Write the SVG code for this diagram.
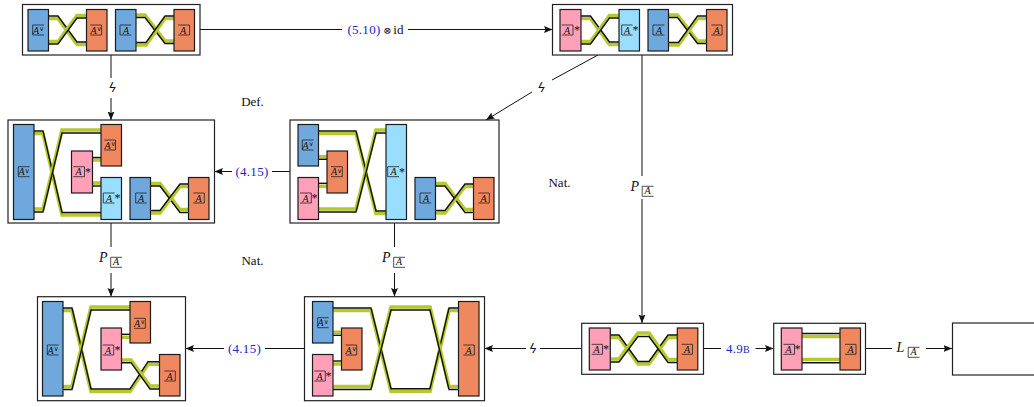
<svg xmlns="http://www.w3.org/2000/svg" width="1034" height="407" viewBox="0 0 1034 407">
<style>
text{font-family:"Liberation Serif","DejaVu Serif",serif;fill:#111}
.f{fill:#fff;stroke:#222;stroke-width:1.2}
.s{stroke:#1c1c1c;stroke-width:1.2}
.bl{fill:#6fa8dc}.or{fill:#f0885f}.pk{fill:#ff9fb8}.lb{fill:#99ddff}
.o{fill:none;stroke:#b7c72e;stroke-width:3.6}
.k{fill:none;stroke:#111;stroke-width:1.4}
.b{fill:none;stroke:#222;stroke-width:.8}
.a{font-size:10px;font-style:italic;text-anchor:middle}
.u{font-size:6.5px;font-style:normal}
.st{font-size:12px;transform:translate(-.5px,2.5px)}
.e{fill:none;stroke:#111;stroke-width:1}
.l{font-size:13px;text-anchor:middle;letter-spacing:.3px}
.z{font-family:"DejaVu Sans",sans-serif;font-size:13px;font-style:italic;text-anchor:middle}
.blue{fill:#2424c8}
.p{font-size:14px;font-style:italic}
.t{font-size:13px;text-anchor:middle}
</style>
<defs>
<marker id="ah" markerUnits="userSpaceOnUse" markerWidth="9" markerHeight="8" refX="8.500" refY="3.500" orient="auto"><path d="M0 0L8.500 3.500L0 7L1.500 3.500Z" fill="#111"/></marker>
</defs>

<g id="connectors">
<path class="e" d="M200 29.500H342"/><path class="e" d="M408 29.500H552.500" marker-end="url(#ah)"/>
<path class="e" d="M111 55V78"/><path class="e" d="M111 98V120" marker-end="url(#ah)"/>
<path class="e" d="M598 55L552 80"/><path class="e" d="M532 92L486 120" marker-end="url(#ah)"/>
<path class="e" d="M642 55V176"/><path class="e" d="M642 199V323" marker-end="url(#ah)"/>
<path class="e" d="M290 171.500H272"/><path class="e" d="M232 171.500H214.500" marker-end="url(#ah)"/>
<path class="e" d="M111 223V247"/><path class="e" d="M111 273V296.500" marker-end="url(#ah)"/>
<path class="e" d="M394.500 223V247"/><path class="e" d="M394.500 273V296.500" marker-end="url(#ah)"/>
<path class="e" d="M304 348.500H265"/><path class="e" d="M224 348.500H185.500" marker-end="url(#ah)"/>
<path class="e" d="M581.500 348.500H540"/><path class="e" d="M526 348.500H484.500" marker-end="url(#ah)"/>
<path class="e" d="M703.500 348.500H721"/><path class="e" d="M755.500 348.500H773.500" marker-end="url(#ah)"/>
<path class="e" d="M865.500 348.500H892"/><path class="e" d="M926 348.500H952" marker-end="url(#ah)"/>
</g>

<g id="edge-labels">
<text class="l blue" x="364" y="34">(5.10)</text><text class="l" x="387.500" y="34" style="font-size:10px">⊗</text><text class="l" x="398.500" y="34">id</text>
<text class="z" x="112.500" y="92">ϟ</text>
<text class="z" x="541.500" y="92">ϟ</text>
<text class="z" x="533" y="353">ϟ</text>
<text class="l blue" x="252" y="176">(4.15)</text>
<text class="l blue" x="244.500" y="353">(4.15)</text>
<text class="l blue" x="738" y="353">4.9<tspan style="font-size:10px">B</tspan></text>
<text class="t" x="252.500" y="106">Def.</text>
<text class="t" x="559.500" y="187">Nat.</text>
<text class="t" x="252.500" y="265">Nat.</text>
<text class="p" x="99" y="262">P</text><path class="b" d="M122 257.300H110.700V267.300H122"/><text class="a" x="116" y="265.300">A</text>
<text class="p" x="382" y="262">P</text><path class="b" d="M405 257.300H393.700V267.300H405"/><text class="a" x="399" y="265.300">A</text>
<text class="p" x="630.500" y="191">P</text><path class="b" d="M653.500 186.300H642.200V196.300H653.500"/><text class="a" x="647.500" y="194.300">A</text>
<text class="p" x="896.500" y="352">L</text><path class="b" d="M919.500 347.300H908.200V357.300H919.500"/><text class="a" x="913.500" y="355.300">A</text>
</g>

<g id="n1">
<rect class="f" x="22.500" y="4.500" width="177.500" height="50.500"/>
<path class="o" d="M48.500 18.500H58L77 44.500H86.500"/><path class="k" d="M48.500 16H58L77 42H86.500"/>
<path class="o" d="M48.500 41.500H58L77 15.500H86.500"/><path class="k" d="M48.500 44H58L77 18H86.500"/>
<path class="o" d="M136 15H145L165 41H174"/><path class="k" d="M136 17.500H145L165 43.500H174"/>
<path class="o" d="M136 45H146L165 18.500H174"/><path class="k" d="M136 42.500H146L165 16H174"/>
<rect class="s bl" x="28" y="9.500" width="20.500" height="41.500"/><rect class="s or" x="86.500" y="9.500" width="20.500" height="41.500"/>
<rect class="s bl" x="115.500" y="9.500" width="20.500" height="41.500"/><rect class="s or" x="174" y="9.500" width="20.500" height="41.500"/>
<path class="b" d="M44 25H32.700V35H44"/><text class="a" x="38.500" y="33.500">A<tspan class="u" dy="-2.500">∨</tspan></text>
<path class="b" d="M90.300 25H101.600V35H90.300"/><text class="a" x="96" y="33.500">A<tspan class="u" dy="-2.500">∨</tspan></text>
<path class="b" d="M131.300 25H120V35H131.300"/><text class="a" x="126" y="33.500">A</text>
<path class="b" d="M178.300 25H189.600V35H178.300"/><text class="a" x="183" y="33.500">A</text>
</g>

<g id="n2">
<rect class="f" x="552.500" y="4.500" width="180" height="50.500"/>
<path class="o" d="M581 18.500H590.500L609.500 44.500H619"/><path class="k" d="M581 16H590.500L609.500 42H619"/>
<path class="o" d="M581 41.500H590.500L609.500 15.500H619"/><path class="k" d="M581 44H590.500L609.500 18H619"/>
<path class="o" d="M668.500 15H677.500L697.500 41H706.500"/><path class="k" d="M668.500 17.500H677.500L697.500 43.500H706.500"/>
<path class="o" d="M668.500 45H678.500L697.500 18.500H706.500"/><path class="k" d="M668.500 42.500H678.500L697.500 16H706.500"/>
<rect class="s pk" x="560" y="9.500" width="21" height="41.500"/><rect class="s lb" x="619" y="9.500" width="20.500" height="41.500"/>
<rect class="s bl" x="648" y="9.500" width="20.500" height="41.500"/><rect class="s or" x="706.500" y="9.500" width="20.500" height="41.500"/>
<path class="b" d="M561.700 25H573V35H561.700"/><text class="a" x="567" y="33.500">A</text><text class="st" x="574.500" y="31">*</text>
<path class="b" d="M632.500 25H621.700V35H632.500"/><text class="a" x="627" y="33.500">A</text><text class="st" x="633" y="31">*</text>
<path class="b" d="M664.300 25H653V35H664.300"/><text class="a" x="659" y="33.500">A</text>
<path class="b" d="M711.300 25H722V35H711.300"/><text class="a" x="716.500" y="33.500">A</text>
</g>

<g id="n3">
<rect class="f" x="8" y="120" width="206.500" height="103"/>
<path class="o" d="M34 133.500H43L62 215H101"/><path class="k" d="M34 131H43L62 212.500H101"/>
<path class="o" d="M34 209H43L62 130H101"/><path class="k" d="M34 212H43L62 133H101"/>
<path class="o" d="M92.500 160H101"/><path class="k" d="M92.500 157.500H101"/>
<path class="o" d="M92.500 183H101"/><path class="k" d="M92.500 186H101"/>
<path class="o" d="M150.500 183.500H160L180 209.500H188.500"/><path class="k" d="M150.500 186H160L180 212.500H188.500"/>
<path class="o" d="M150.500 213H160L180 186.500H188.500"/><path class="k" d="M150.500 210.500H160L180 184H188.500"/>
<rect class="s bl" x="13.500" y="124.500" width="20.500" height="95"/><rect class="s or" x="101" y="124.500" width="20.500" height="41.500"/>
<rect class="s pk" x="71.500" y="151" width="21" height="42"/><rect class="s lb" x="101" y="177.500" width="20.500" height="42"/>
<rect class="s bl" x="130" y="177.500" width="20.500" height="42"/><rect class="s or" x="188.500" y="177.500" width="20.500" height="42"/>
<path class="b" d="M29.500 166.700H18.300V176.700H29.500"/><text class="a" x="24" y="175.200">A<tspan class="u" dy="-2.500">∨</tspan></text>
<path class="b" d="M104.300 140H115.500V150H104.300"/><text class="a" x="110" y="148.500">A<tspan class="u" dy="-2.500">∨</tspan></text>
<path class="b" d="M73.300 166.700H84.500V176.700H73.300"/><text class="a" x="78.500" y="175.200">A</text><text class="st" x="85.500" y="173">*</text>
<path class="b" d="M114.500 193H103.300V203H114.500"/><text class="a" x="109" y="201.500">A</text><text class="st" x="115" y="199">*</text>
<path class="b" d="M146.700 193H135.700V203H146.700"/><text class="a" x="141" y="201.500">A</text>
<path class="b" d="M193.300 193H204.300V203H193.300"/><text class="a" x="198.500" y="201.500">A</text>
</g>

<g id="n4">
<rect class="f" x="290" y="120" width="209" height="103"/>
<path class="o" d="M318.500 133.500H356L376 213.500H386"/><path class="k" d="M318.500 131H356L376 211H386"/>
<path class="o" d="M318.500 209H356L376 130H386"/><path class="k" d="M318.500 212H356L376 133H386"/>
<path class="o" d="M318.500 156.700H327"/><path class="k" d="M318.500 159.300H327"/>
<path class="o" d="M318.500 186.300H327"/><path class="k" d="M318.500 183.300H327"/>
<path class="o" d="M435.500 183.500H445L465 209.500H473.500"/><path class="k" d="M435.500 186H445L465 212.500H473.500"/>
<path class="o" d="M435.500 213H445L465 186.500H473.500"/><path class="k" d="M435.500 210.500H445L465 184H473.500"/>
<rect class="s bl" x="298" y="124.500" width="20.500" height="41.500"/><rect class="s pk" x="298" y="177.500" width="20.500" height="42"/>
<rect class="s or" x="327" y="151" width="20.500" height="42"/><rect class="s lb" x="386" y="124.500" width="20.500" height="95"/>
<rect class="s bl" x="415" y="177.500" width="20.500" height="42"/><rect class="s or" x="473.500" y="177.500" width="20.500" height="42"/>
<path class="b" d="M313.500 140H302.300V150H313.500"/><text class="a" x="308" y="148.500">A<tspan class="u" dy="-2.500">∨</tspan></text>
<path class="b" d="M331 166.700H342.300V176.700H331"/><text class="a" x="336.500" y="175.200">A<tspan class="u" dy="-2.500">∨</tspan></text>
<path class="b" d="M300 193H311.300V203H300"/><text class="a" x="305.500" y="201.500">A</text><text class="st" x="312" y="199">*</text>
<path class="b" d="M399 166.700H387.700V176.700H399"/><text class="a" x="393.500" y="175.200">A</text><text class="st" x="399.500" y="173">*</text>
<path class="b" d="M431.300 193H420V203H431.300"/><text class="a" x="426" y="201.500">A</text>
<path class="b" d="M478.300 193H489.300V203H478.300"/><text class="a" x="483.500" y="201.500">A</text>
</g>

<g id="n5">
<rect class="f" x="37.500" y="296.700" width="148" height="104"/>
<path class="o" d="M63 310.500H72L91 391.500H130L148 364.200H159.500"/><path class="k" d="M63 308H72L91 389H130L148 361.700H159.500"/>
<path class="o" d="M63 386.500H72L91 307H130"/><path class="k" d="M63 389.500H72L91 310H130"/>
<path class="o" d="M121.500 337.300H130"/><path class="k" d="M121.500 334.300H130"/>
<path class="o" d="M121.500 360H131L150 386H159.500"/><path class="k" d="M121.500 362.700H131L150 389H159.500"/>
<rect class="s bl" x="42.500" y="301.500" width="20.500" height="94.500"/><rect class="s or" x="130" y="301.500" width="20.500" height="41.500"/>
<rect class="s pk" x="101" y="328" width="20.500" height="42"/><rect class="s or" x="159.500" y="354.500" width="20.500" height="41.500"/>
<path class="b" d="M58.500 345H47.300V355H58.500"/><text class="a" x="53" y="353.500">A<tspan class="u" dy="-2.500">∨</tspan></text>
<path class="b" d="M134 318.300H145.300V328.300H134"/><text class="a" x="139.500" y="326.800">A<tspan class="u" dy="-2.500">∨</tspan></text>
<path class="b" d="M102.700 345H113.700V355H102.700"/><text class="a" x="108" y="353.500">A</text><text class="st" x="115" y="351">*</text>
<path class="b" d="M164.300 371H175.300V381H164.300"/><text class="a" x="169.500" y="379.500">A</text>
</g>

<g id="n6">
<rect class="f" x="304.500" y="296.700" width="180" height="104"/>
<path class="o" d="M333 310.500H371L391 391.200H430L449 310.500H458.500"/><path class="k" d="M333 308H371L391 388.700H430L449 308H458.500"/>
<path class="o" d="M333 386.500H371L391 307H430L449 386.500H458.500"/><path class="k" d="M333 389.500H371L391 310H430L449 389.500H458.500"/>
<path class="o" d="M333 332.300H341.500"/><path class="k" d="M333 335.300H341.500"/>
<path class="o" d="M333 364H341.500"/><path class="k" d="M333 361H341.500"/>
<rect class="s bl" x="312.500" y="301.500" width="20.500" height="41.500"/><rect class="s pk" x="312.500" y="354.500" width="20.500" height="41.500"/>
<rect class="s or" x="341.500" y="328" width="20.500" height="42"/><rect class="s or" x="458.500" y="301.500" width="20.500" height="94.500"/>
<path class="b" d="M328.700 317.700H317.700V327.700H328.700"/><text class="a" x="323" y="326.200">A<tspan class="u" dy="-2.500">∨</tspan></text>
<path class="b" d="M345.700 345H356.700V355H345.700"/><text class="a" x="351" y="353.500">A<tspan class="u" dy="-2.500">∨</tspan></text>
<path class="b" d="M314.300 371H325.300V381H314.300"/><text class="a" x="319.500" y="379.500">A</text><text class="st" x="326" y="377">*</text>
<path class="b" d="M463.300 345H474.300V355H463.300"/><text class="a" x="468.500" y="353.500">A</text>
</g>

<g id="n7">
<rect class="f" x="581.700" y="323.300" width="121.800" height="51"/>
<path class="o" d="M610 337.500H619L638 364H649L668 337.500H677.500"/><path class="k" d="M610 335H619L638 361.500H649L668 335H677.500"/>
<path class="o" d="M610 359H619L638 333H649L668 359.500H677.500"/><path class="k" d="M610 362H619L638 336.500H649L668 362.500H677.500"/>
<rect class="s pk" x="589.300" y="328" width="21" height="42"/><rect class="s or" x="677.300" y="328" width="20.500" height="42"/>
<path class="b" d="M591.700 344.300H602.500V354.300H591.700"/><text class="a" x="596.500" y="352.800">A</text><text class="st" x="603.500" y="350.500">*</text>
<path class="b" d="M681.700 344.300H692.500V354.300H681.700"/><text class="a" x="687" y="352.800">A</text>
</g>

<g id="n8">
<rect class="f" x="773.700" y="323.300" width="91.800" height="51"/>
<path class="o" d="M802 336.500H840"/><path class="k" d="M802 333.500H840"/>
<path class="o" d="M802 359.500H840"/><path class="k" d="M802 362.700H840"/>
<rect class="s pk" x="781.300" y="328" width="20.700" height="42"/><rect class="s or" x="840" y="328" width="20.500" height="42"/>
<path class="b" d="M783.300 344.300H794.500V354.300H783.300"/><text class="a" x="788.500" y="352.800">A</text><text class="st" x="795" y="350.500">*</text>
<path class="b" d="M845 344.300H856V354.300H845"/><text class="a" x="850.500" y="352.800">A</text>
</g>

<g id="n9"><rect class="f" x="952.500" y="323" width="90" height="52"/></g>
</svg>
